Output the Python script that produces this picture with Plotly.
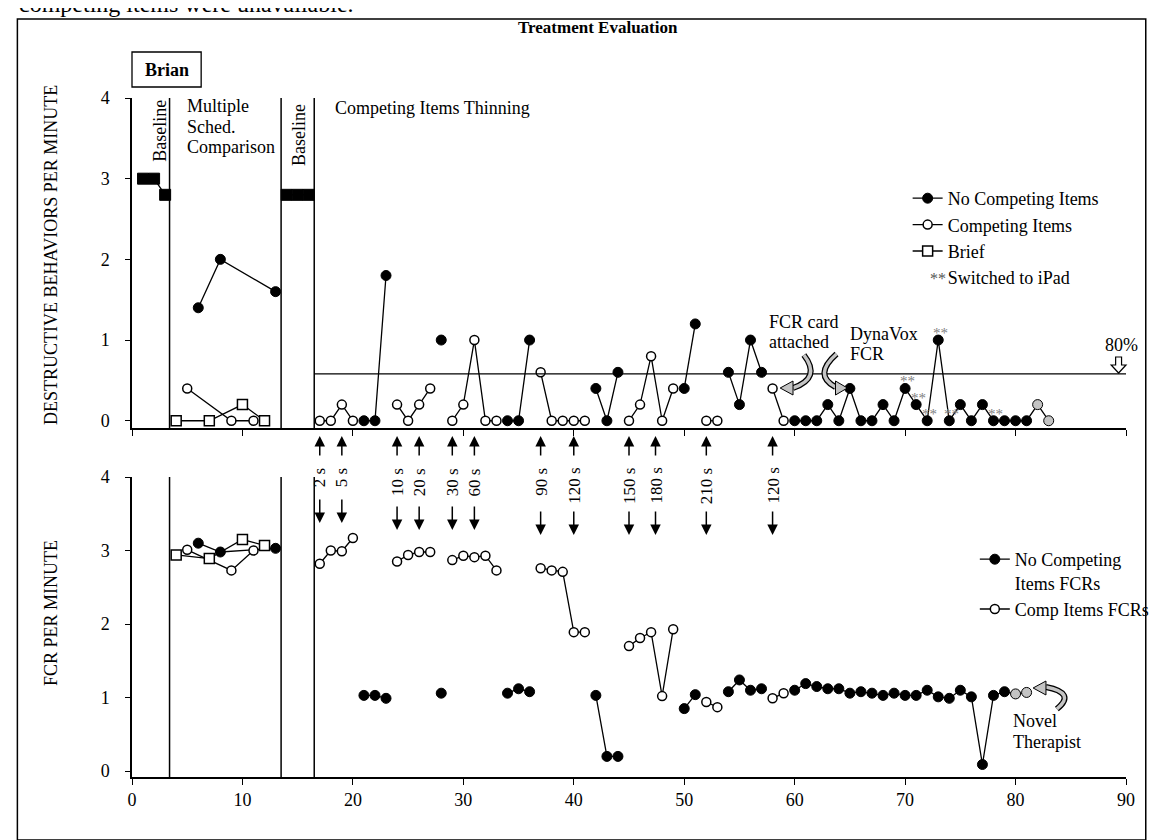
import plotly.graph_objects as go

# ---------------- data ----------------
# Destructive behaviors per minute (top panel)
baseline_sessions = [1, 2, 3, None, 14, 15, 16]
baseline_db = [3.0, 3.0, 2.8, None, 2.8, 2.8, 2.8]

nci_sessions = [6, 8, 13, None, 21, 22, 23, None, 28, None, 34, 35, 36, None,
                42, 43, 44, None, 50, 51, None, 54, 55, 56, 57, None,
                60, 61, 62, 63, 64, 65, 66, 67, 68, 69, 70, 71, 72, 73, 74, 75,
                76, 77, 78, 79, 80, 81, 82, 83]
nci_db = [1.4, 2.0, 1.6, None, 0, 0, 1.8, None, 1.0, None, 0, 0, 1.0, None,
          0.4, 0, 0.6, None, 0.4, 1.2, None, 0.6, 0.2, 1.0, 0.6, None,
          0, 0, 0, 0.2, 0, 0.4, 0, 0, 0.2, 0, 0.4, 0.2, 0, 1.0, 0, 0.2,
          0, 0.2, 0, 0, 0, 0, 0.2, 0]

ci_sessions = [5, 9, 11, None, 17, 18, 19, 20, None, 24, 25, 26, 27, None,
               29, 30, 31, 32, 33, None, 37, 38, 39, 40, 41, None,
               45, 46, 47, 48, 49, None, 52, 53, None, 58, 59]
ci_db = [0.4, 0, 0, None, 0, 0, 0.2, 0, None, 0.2, 0, 0.2, 0.4, None,
         0, 0.2, 1.0, 0, 0, None, 0.6, 0, 0, 0, 0, None,
         0, 0.2, 0.8, 0, 0.4, None, 0, 0, None, 0.4, 0]

brief_sessions = [4, 7, 10, 12]
brief_db = [0, 0, 0.2, 0]

# FCR per minute (bottom panel)
nci_fcr_sessions = [6, 8, 13, None, 21, 22, 23, None, 28, None, 34, 35, 36, None,
                    42, 43, 44, None, 50, 51, None, 54, 55, 56, 57, None,
                    60, 61, 62, 63, 64, 65, 66, 67, 68, 69, 70, 71, 72, 73, 74,
                    75, 76, 77, 78, 79, 80, 81]
nci_fcr = [3.10, 2.98, 3.03, None, 1.03, 1.03, 0.99, None, 1.06, None, 1.06, 1.12, 1.08, None,
           1.03, 0.20, 0.20, None, 0.85, 1.04, None, 1.08, 1.24, 1.10, 1.12, None,
           1.10, 1.19, 1.15, 1.12, 1.12, 1.06, 1.08, 1.06, 1.03, 1.06, 1.03,
           1.03, 1.10, 1.01, 0.99, 1.10, 1.01, 0.09, 1.03, 1.08, 1.05, 1.07]

ci_fcr_sessions = ci_sessions
ci_fcr = [3.01, 2.73, 3.00, None, 2.82, 3.00, 2.99, 3.17, None, 2.85, 2.94, 2.98, 2.98, None,
          2.87, 2.93, 2.91, 2.93, 2.73, None, 2.76, 2.73, 2.71, 1.89, 1.89, None,
          1.70, 1.81, 1.89, 1.02, 1.93, None, 0.94, 0.87, None, 0.99, 1.06]

brief_fcr = [2.94, 2.89, 3.15, 3.07]

novel_db_sessions = [82, 83]
novel_fcr_sessions = [80, 81]
ipad_sessions = [70, 71, 72, 73, 74, 78]

phase_lines = [3.4, 13.5, 16.5]
criterion = 0.58
thinning_sessions = [17, 19, 24, 26, 29, 31, 37, 40, 45, 47.4, 52, 58]
thinning_labels = ["2 s", "5 s", "10 s", "20 s", "30 s", "60 s", "90 s",
                   "120 s", "150 s", "180 s", "210 s", "120 s"]
x_ticks = [0, 10, 20, 30, 40, 50, 60, 70, 80, 90]
y_ticks = [0, 1, 2, 3, 4]

# ---------------- layout helpers ----------------
W, H = 1159, 840
ML, MR, MT, MB = 124, 29, 90, 71
PW = W - ML - MR
PH = H - MT - MB
FONT = "Liberation Serif"
GRAY = "#c4c4c4"


def px(x):
    return (x - ML) / PW


def py(y):
    return (H - MB - y) / PH


def pt(x, y):
    return f"{px(x):.5f},{py(y):.5f}"


TOP_DOM = [py(420), 1.0]
BOT_DOM = [0.0, py(469)]

fig = go.Figure()

LINE = dict(color="black", width=1.3)
filled_circle = dict(symbol="circle", size=10, color="black", line=dict(color="black", width=1))
open_circle = dict(symbol="circle", size=9, color="white", line=dict(color="black", width=1.5))
open_square = dict(symbol="square", size=10, color="white", line=dict(color="black", width=1.5))
filled_square = dict(symbol="square", size=11, color="black", line=dict(color="black", width=1))


def colors(sessions, gray_set):
    return [GRAY if s in gray_set else "black" for s in sessions]


# top panel
fig.add_trace(go.Scatter(x=baseline_sessions, y=baseline_db, mode="lines+markers",
                         line=LINE, marker=filled_square, showlegend=False,
                         xaxis="x", yaxis="y", connectgaps=False))
fig.add_trace(go.Scatter(x=nci_sessions, y=nci_db, mode="lines+markers", name="No Competing Items",
                         line=LINE,
                         marker=dict(filled_circle, color=colors(nci_sessions, novel_db_sessions)),
                         xaxis="x", yaxis="y", legend="legend", connectgaps=False))
fig.add_trace(go.Scatter(x=ci_sessions, y=ci_db, mode="lines+markers", name="Competing Items",
                         line=LINE, marker=open_circle,
                         xaxis="x", yaxis="y", legend="legend", connectgaps=False))
fig.add_trace(go.Scatter(x=brief_sessions, y=brief_db, mode="lines+markers", name="Brief",
                         line=LINE, marker=open_square,
                         xaxis="x", yaxis="y", legend="legend"))
fig.add_trace(go.Scatter(x=[None], y=[None], mode="markers", name="Switched to iPad",
                         marker=dict(size=1, color="rgba(0,0,0,0)"),
                         xaxis="x", yaxis="y", legend="legend"))

# bottom panel
fig.add_trace(go.Scatter(x=nci_fcr_sessions, y=nci_fcr, mode="lines+markers",
                         name="No Competing<br>Items FCRs", line=LINE,
                         marker=dict(filled_circle, color=colors(nci_fcr_sessions, novel_fcr_sessions)),
                         xaxis="x2", yaxis="y2", legend="legend2", connectgaps=False))
fig.add_trace(go.Scatter(x=ci_fcr_sessions, y=ci_fcr, mode="lines+markers", name="Comp Items FCRs",
                         line=LINE, marker=open_circle,
                         xaxis="x2", yaxis="y2", legend="legend2", connectgaps=False))
fig.add_trace(go.Scatter(x=brief_sessions, y=brief_fcr, mode="lines+markers",
                         line=LINE, marker=open_square, showlegend=False,
                         xaxis="x2", yaxis="y2"))

shapes = []
# phase change lines
for p in phase_lines:
    shapes.append(dict(type="line", xref="x", yref="y", x0=p, x1=p, y0=-0.09, y1=4,
                       line=dict(color="black", width=1.5)))
    shapes.append(dict(type="line", xref="x2", yref="y2", x0=p, x1=p, y0=-0.08, y1=4,
                       line=dict(color="black", width=1.5)))
# criterion line
shapes.append(dict(type="line", xref="x", yref="y", x0=phase_lines[2], x1=90,
                   y0=criterion, y1=criterion, line=dict(color="black", width=1.3)))
# hollow arrow for 80%
shapes.append(dict(type="path", xref="paper", yref="paper",
                   path="M" + " L".join(pt(a, b) for a, b in [(1119.5, 349), (1125.5, 349), (1125.5, 357),
                                                              (1130, 357), (1122.5, 365), (1115, 357),
                                                              (1119.5, 357)]) + " Z",
                   fillcolor="white", line=dict(color="black", width=1.2)))
# Brian box
shapes.append(dict(type="rect", xref="paper", yref="paper", x0=px(124), x1=px(194),
                   y0=py(79), y1=py(44), line=dict(color="black", width=1.3)))
# outer border
shapes.append(dict(type="rect", xref="paper", yref="paper", x0=px(8), x1=px(1150),
                   y0=py(832), y1=py(11), line=dict(color="black", width=1.5), layer="below"))


def curved_arrow(p0, c, p2, tip, base1, base2):
    path = f"M{pt(*p0)} Q{pt(*c)} {pt(*p2)}"
    shapes.append(dict(type="path", xref="paper", yref="paper", path=path,
                       line=dict(color="black", width=6)))
    shapes.append(dict(type="path", xref="paper", yref="paper", path=path,
                       line=dict(color=GRAY, width=3.5)))
    shapes.append(dict(type="path", xref="paper", yref="paper",
                       path=f"M{pt(*tip)} L{pt(*base1)} L{pt(*base2)} Z",
                       fillcolor=GRAY, line=dict(color="black", width=1)))


curved_arrow((804, 347), (822, 370), (793, 380), (780, 380), (793, 373), (793, 387))
curved_arrow((837, 346), (813, 367), (836, 379), (848, 380), (836, 373), (836, 387))
curved_arrow((1060, 701), (1080, 685), (1049, 679), (1036, 680), (1049, 673), (1049, 687))

ann = []


def text(x, y, s, size=18, xanchor="center", yanchor="middle", angle=0, color="black"):
    ann.append(dict(x=px(x), y=py(y), xref="paper", yref="paper", text=s, showarrow=False,
                    xanchor=xanchor, yanchor=yanchor, textangle=angle,
                    font=dict(family=FONT, size=size, color=color)))


text(8, 11, "competing items were unavailable.", size=24, xanchor="left", yanchor="bottom")
text(596, 20, "<b>Treatment Evaluation</b>", size=17)
text(159, 62, "<b>Brian</b>", size=18)
text(42, 247, "DESTRUCTIVE BEHAVIORS PER MINUTE", size=18, angle=-90)
text(42, 605, "FCR PER MINUTE", size=18, angle=-90)
text(152, 123, "Baseline", angle=-90)
text(293, 127, "Baseline", angle=-90)
text(178, 98, "Multiple", xanchor="left")
text(178, 119, "Sched.", xanchor="left")
text(178, 139.5, "Comparison", xanchor="left")
text(327, 100, "Competing Items Thinning", xanchor="left")
text(767, 314, "FCR card", xanchor="left")
text(767, 334, "attached", xanchor="left")
text(849, 326, "DynaVox", xanchor="left")
text(849, 346, "FCR", xanchor="left")
text(1125, 337, "80%")
text(1014, 713, "Novel", xanchor="left")
text(1014, 734, "Therapist", xanchor="left")
text(940, 270, "**", size=16, color="#555555")

# asterisks for iPad sessions
db_lookup = {s: v for s, v in zip(nci_sessions, nci_db) if s is not None}
for s in ipad_sessions:
    ann.append(dict(x=s, y=db_lookup[s], xref="x", yref="y", text="**", showarrow=False,
                    xshift=2, yshift=7, font=dict(family=FONT, size=15, color="#808080")))

# thinning step arrows and labels
down_heads = [515, 515, 522, 522, 522, 522, 527, 527, 527, 527, 527, 527]
for s, lab, hd in zip(thinning_sessions, thinning_labels, down_heads):
    ann.append(dict(x=s, xref="x", y=py(428), yref="paper", ax=0, ay=21, text="",
                    showarrow=True, arrowhead=2, arrowsize=1.4, arrowwidth=1.5, arrowcolor="black"))
    ann.append(dict(x=s, xref="x", y=py(hd), yref="paper", ax=0, ay=-25, text="",
                    showarrow=True, arrowhead=2, arrowsize=1.4, arrowwidth=1.5, arrowcolor="black"))
    ann.append(dict(x=s, xref="x", y=py(458), yref="paper", text=lab, showarrow=False,
                    textangle=-90, yanchor="top", xanchor="center",
                    font=dict(family=FONT, size=17, color="black")))

axis_common = dict(showline=True, linecolor="black", linewidth=1.5, ticks="outside",
                   tickcolor="black", tickwidth=1.3, showgrid=False, zeroline=False,
                   tickfont=dict(family=FONT, size=18, color="black"))

fig.update_layout(
    width=W, height=H,
    margin=dict(l=ML, r=MR, t=MT, b=MB),
    paper_bgcolor="white", plot_bgcolor="white",
    font=dict(family=FONT, size=18, color="black"),
    xaxis=dict(axis_common, domain=[0, 1], range=[0, 90], anchor="y", tickvals=x_ticks,
               showticklabels=False, ticklen=6),
    xaxis2=dict(axis_common, domain=[0, 1], range=[0, 90], anchor="y2", tickvals=x_ticks,
                ticklen=6, matches="x"),
    yaxis=dict(axis_common, domain=TOP_DOM, range=[-0.09, 4], anchor="x", tickvals=y_ticks,
               ticklen=5, ticklabelstandoff=12),
    yaxis2=dict(axis_common, domain=BOT_DOM, range=[-0.08, 4], anchor="x2", tickvals=y_ticks,
                ticklen=5, ticklabelstandoff=12),
    legend=dict(x=px(909), y=py(172), xanchor="left", yanchor="top", bgcolor="rgba(0,0,0,0)",
                font=dict(family=FONT, size=18, color="black"), itemwidth=30),
    legend2=dict(x=px(977), y=py(533), xanchor="left", yanchor="top", bgcolor="rgba(0,0,0,0)",
                 font=dict(family=FONT, size=18, color="black"), itemwidth=30, valign="top"),
    shapes=shapes,
    annotations=ann,
)

fig.write_html("out.html")
